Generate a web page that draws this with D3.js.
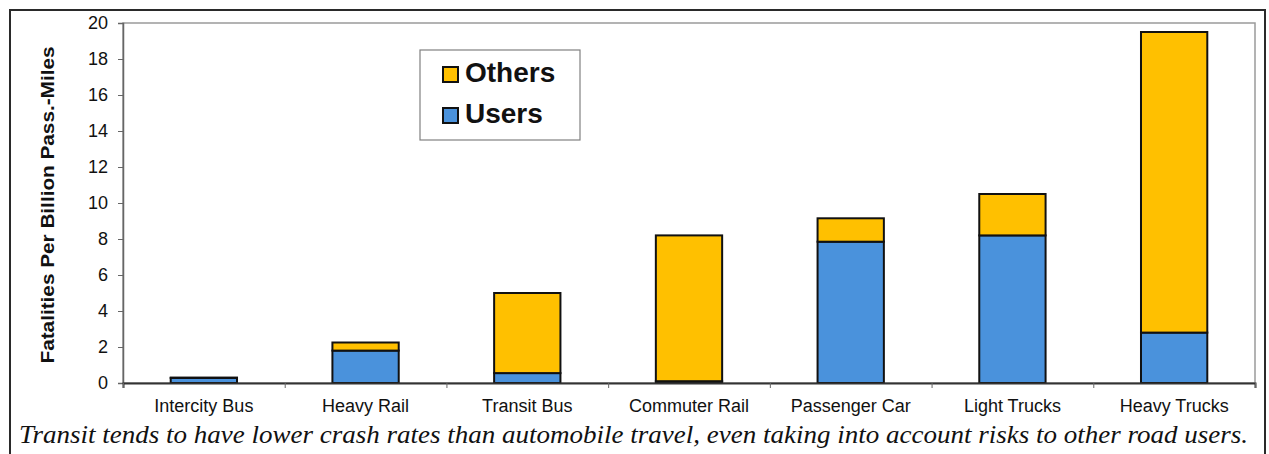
<!DOCTYPE html>
<html>
<head>
<meta charset="utf-8">
<script src="https://cdn.jsdelivr.net/npm/d3@7"></script>
<style>
  html, body { margin: 0; padding: 0; background: #fff; }
  svg { display: block; }
  .sans { font-family: "Liberation Sans", Arial, Helvetica, sans-serif; }
  .serif { font-family: "Liberation Serif", "Times New Roman", Times, serif; }
</style>
</head>
<body>
<script>
const categories = ["Intercity Bus", "Heavy Rail", "Transit Bus", "Commuter Rail", "Passenger Car", "Light Trucks", "Heavy Trucks"];
const users = [0.28, 1.8, 0.55, 0.1, 7.85, 8.2, 2.8];
const others = [0.02, 0.45, 4.45, 8.1, 1.3, 2.3, 16.7];
const seriesNames = ["Users", "Others"];
const yTicks = [0, 2, 4, 6, 8, 10, 12, 14, 16, 18, 20];
const yLabel = "Fatalities Per Billion Pass.-Miles";
const caption = "Transit tends to have lower crash rates than automobile travel, even taking into account risks to other road users.";

const width = 1269, height = 454;
const marginLeft = 123, marginRight = 14, marginTop = 23, marginBottom = 71;
const colors = { Users: "#4a92dc", Others: "#ffc000" };

const rows = categories.map((c, i) => ({ category: c, Users: users[i], Others: others[i] }));
const stacked = d3.stack().keys(seriesNames)(rows);

const x = d3.scaleBand()
    .domain(categories)
    .range([marginLeft, width - marginRight])
    .paddingInner(0.59)
    .paddingOuter(0.295);
const xEdge = d3.scaleLinear().domain([0, categories.length]).range([marginLeft, width - marginRight]);
const y = d3.scaleLinear().domain([0, 20]).range([height - marginBottom, marginTop]);

const svg = d3.select("body").append("svg")
    .attr("width", width)
    .attr("height", height)
    .attr("viewBox", [0, 0, width, height]);

// outer frame
svg.append("rect")
    .attr("x", 10).attr("y", 10)
    .attr("width", 1255).attr("height", 460)
    .attr("fill", "none")
    .attr("stroke", "#2a2a2a")
    .attr("stroke-width", 2);

// plot area frame
svg.append("rect")
    .attr("x", marginLeft).attr("y", marginTop)
    .attr("width", width - marginLeft - marginRight)
    .attr("height", height - marginTop - marginBottom)
    .attr("fill", "none")
    .attr("stroke", "#9a9a9a")
    .attr("stroke-width", 1.5);

// y axis
svg.append("g")
    .attr("transform", `translate(${marginLeft},0)`)
    .call(d3.axisLeft(y).tickValues(yTicks).tickSize(5).tickPadding(10))
    .call(g => g.attr("font-family", null).attr("font-size", null))
    .call(g => g.select(".domain").attr("stroke", "#666").attr("stroke-width", 1.5))
    .call(g => g.selectAll(".tick line").attr("stroke", "#666"))
    .call(g => g.selectAll(".tick text")
        .attr("class", "sans")
        .attr("font-size", 18)
        .attr("fill", "#111"));

svg.append("text")
    .attr("class", "sans")
    .attr("transform", `translate(54,${(y(0) + y(20)) / 2 + 2}) rotate(-90)`)
    .attr("text-anchor", "middle")
    .attr("font-weight", "bold")
    .attr("font-size", 18)
    .attr("textLength", 317)
    .attr("lengthAdjust", "spacingAndGlyphs")
    .attr("fill", "#111")
    .text(yLabel);

// bars
svg.append("g")
    .selectAll("g")
    .data(stacked)
    .join("g")
    .attr("fill", d => colors[d.key])
    .selectAll("rect")
    .data(d => d)
    .join("rect")
    .attr("x", d => x(d.data.category))
    .attr("width", x.bandwidth())
    .attr("y", d => y(d[1]))
    .attr("height", d => y(d[0]) - y(d[1]))
    .attr("stroke", "#111")
    .attr("stroke-width", 2);

// x axis: boundary ticks
svg.append("g")
    .attr("transform", `translate(0,${y(0)})`)
    .call(d3.axisBottom(xEdge).tickValues(d3.range(categories.length + 1)).tickSize(5).tickFormat(""))
    .call(g => g.select(".domain").attr("stroke", "#333").attr("stroke-width", 2))
    .call(g => g.selectAll(".tick line").attr("stroke", "#666"));

// x axis: category labels
svg.append("g")
    .attr("transform", `translate(0,${y(0)})`)
    .call(d3.axisBottom(x).tickSize(0).tickPadding(16))
    .call(g => g.attr("font-family", null).attr("font-size", null))
    .call(g => g.select(".domain").remove())
    .call(g => g.selectAll(".tick text")
        .attr("class", "sans")
        .attr("font-size", 18)
        .attr("fill", "#111"));

// legend
const legend = svg.append("g");
legend.append("rect")
    .attr("x", 420).attr("y", 50)
    .attr("width", 160).attr("height", 90)
    .attr("fill", "#fff")
    .attr("stroke", "#808080")
    .attr("stroke-width", 1.2);

const legendItems = ["Others", "Users"];
legend.selectAll("g.item")
    .data(legendItems)
    .join("g")
    .attr("class", "item")
    .attr("transform", (d, i) => `translate(443,${67 + i * 41})`)
    .call(g => g.append("rect")
        .attr("width", 15).attr("height", 15)
        .attr("fill", d => colors[d])
        .attr("stroke", "#111")
        .attr("stroke-width", 2))
    .call(g => g.append("text")
        .attr("class", "sans")
        .attr("x", 22).attr("y", 15)
        .attr("font-weight", "bold")
        .attr("font-size", 28)
        .attr("fill", "#111")
        .text(d => d));

// caption
svg.append("text")
    .attr("class", "serif")
    .attr("x", 19).attr("y", 443)
    .attr("font-style", "italic")
    .attr("font-size", 25)
    .attr("textLength", 1229)
    .attr("lengthAdjust", "spacingAndGlyphs")
    .attr("fill", "#111")
    .text(caption);
</script>
</body>
</html>
